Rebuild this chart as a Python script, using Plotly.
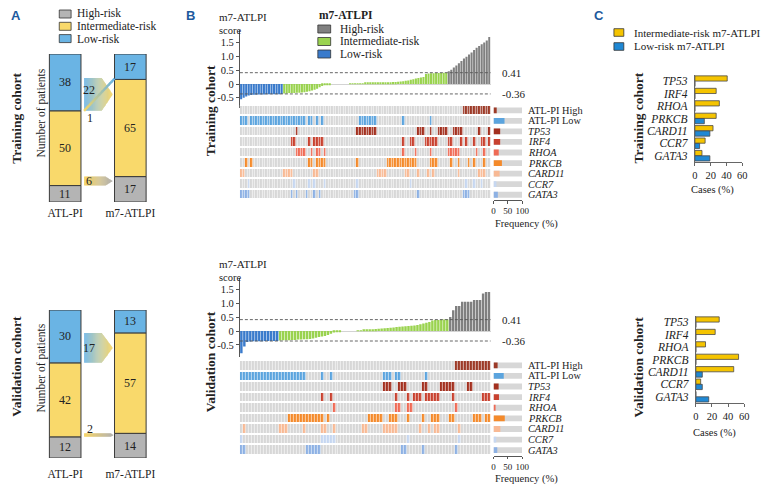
import plotly.graph_objects as go

W, H = 767, 486
SERIF = "Liberation Serif"
SANS = "Liberation Sans"
INK = "#222222"

# ---------------- Panel A data ----------------
risk_names = ["High-risk", "Intermediate-risk", "Low-risk"]
a_colors = ["#b4b4b4", "#f9d96b", "#6ab4e4"]
score_labels = ["ATL-PI", "m7-ATLPI"]
train_atlpi = [11, 50, 38]
train_m7 = [17, 65, 17]
valid_atlpi = [12, 42, 30]
valid_m7 = [14, 57, 13]
train_low_to_int = 22
train_int_to_low = 1
train_int_to_high = 6
valid_low_to_int = 17
valid_int_to_high = 2

# ---------------- Panel B data ----------------
b_risk_colors = ["#808080", "#9ad34f", "#3a7bcc"]
train_score_low = [-0.55, -0.50, -0.45, -0.42, -0.40, -0.39, -0.39, -0.38, -0.38,
                   -0.38, -0.37, -0.37, -0.37, -0.37, -0.37, -0.37, -0.36]
train_score_int = [-0.34, -0.34, -0.33, -0.33, -0.33, -0.32, -0.32, -0.31, -0.30,
                   -0.28, -0.26, -0.24, -0.21, -0.17, -0.12, -0.07, -0.03,
                   -0.01, -0.01, 0, 0, 0, 0, 0, 0, 0, 0.01, 0.01, 0.01,
                   0.02, 0.02, 0.02, 0.03, 0.03, 0.03, 0.03, 0.04, 0.04, 0.04, 0.05,
                   0.05, 0.06, 0.06, 0.07, 0.07, 0.08, 0.09, 0.10,
                   0.12, 0.13, 0.15, 0.17, 0.20, 0.22, 0.24, 0.25,
                   0.36, 0.38, 0.39, 0.39, 0.40, 0.40, 0.40, 0.41, 0.41]
train_score_high = [0.46, 0.52, 0.60, 0.67, 0.75, 0.83, 0.92, 0.99, 1.07, 1.14,
                    1.23, 1.31, 1.38, 1.44, 1.50, 1.58, 1.70]
valid_score_low = [-0.80, -0.56, -0.40, -0.38, -0.37, -0.37, -0.37, -0.37, -0.36,
                   -0.36, -0.36, -0.36, -0.36]
valid_score_int = [-0.34, -0.33, -0.33, -0.33, -0.32, -0.32, -0.31, -0.31, -0.30, -0.30, -0.29,
                   -0.27, -0.24, -0.22, -0.20, -0.18, -0.14, -0.10, -0.05,
                   -0.02, -0.01, 0, 0, 0, 0, 0, 0.01, 0.01,
                   0.03, 0.04, 0.05, 0.06, 0.07, 0.08, 0.09, 0.10, 0.11, 0.12, 0.13,
                   0.14, 0.15, 0.16, 0.17,
                   0.18, 0.19, 0.20, 0.22, 0.24, 0.27, 0.30, 0.32,
                   0.38, 0.40, 0.40, 0.41, 0.41, 0.41]
valid_score_high = [0.50, 0.75, 0.90, 0.90, 1.05, 1.05, 1.05, 1.05, 1.12, 1.12,
                    1.12, 1.35, 1.40, 1.40]
cut_high = 0.41
cut_low = -0.36

row_labels = ["ATL-PI High", "ATL-PI Low", "TP53", "IRF4", "RHOA", "PRKCB",
              "CARD11", "CCR7", "GATA3"]
row_italic = [False, False, True, True, True, True, True, True, True]
row_colors = ["#9c3a27", "#5ba4de", "#a3301f", "#c8412f", "#ef6a55", "#f48a2b",
              "#f8b994", "#c6d7f1", "#8db1e4"]
cell_bg = "#d7d7d7"

# runs of altered patients (first, last), patients ordered by score
train_runs = [
    [(88, 98)],
    [(0, 2), (4, 25), (27, 28), (30, 30), (32, 32), (47, 53), (64, 64), (75, 75)],
    [(22, 22), (46, 53), (70, 72), (75, 75), (78, 81), (84, 87), (94, 94), (98, 98)],
    [(20, 21), (27, 27), (29, 32), (64, 64), (67, 68), (73, 77), (82, 83), (87, 87),
     (89, 89), (92, 92), (95, 96), (98, 98)],
    [(22, 25), (28, 28), (30, 31), (33, 33), (64, 64), (69, 69), (75, 75), (82, 86),
     (93, 93), (96, 96)],
    [(2, 2), (4, 4), (27, 28), (30, 33), (46, 46), (58, 69), (75, 77), (83, 83),
     (86, 86), (90, 90), (92, 92), (96, 96)],
    [(0, 1), (17, 20), (29, 30), (54, 57), (65, 66), (70, 70), (74, 74), (76, 76),
     (86, 86), (94, 96)],
    [(3, 3), (21, 21), (27, 27), (29, 29), (33, 33), (46, 46), (67, 67), (89, 89),
     (92, 92), (95, 95)],
    [(0, 3), (20, 20), (22, 22), (26, 26), (29, 29), (31, 31), (45, 46), (70, 70),
     (88, 90)],
]
valid_runs = [
    [(72, 83)],
    [(0, 21), (27, 27), (30, 30), (48, 50), (52, 53), (62, 62)],
    [(48, 50), (53, 55), (61, 62), (67, 71), (76, 77)],
    [(27, 27), (30, 30), (52, 52), (56, 56), (58, 60), (62, 66), (71, 71), (81, 83)],
    [(31, 31), (52, 53), (56, 57), (72, 72)],
    [(16, 27), (29, 29), (43, 47), (50, 52), (56, 56), (61, 61), (64, 66), (70, 71),
     (78, 80), (82, 83)],
    [(1, 1), (13, 15), (21, 21), (27, 28), (31, 31), (41, 42), (48, 52), (60, 60),
     (63, 63), (65, 66), (73, 73)],
    [(0, 0), (27, 31), (56, 56), (73, 73)],
    [(0, 1), (22, 26), (54, 55), (61, 61), (72, 72)],
]

# ---------------- Panel C data ----------------
c_genes = ["TP53", "IRF4", "RHOA", "PRKCB", "CARD11", "CCR7", "GATA3"]
c_series = ["Intermediate-risk m7-ATLPI", "Low-risk m7-ATLPI"]
c_colors = ["#f5c400", "#1f88d4"]
train_int_pct = [41, 27, 31, 27, 23, 13, 9]
train_low_pct = [0, 0, 0, 12, 19, 6, 19]
valid_int_pct = [29, 24, 12, 53, 47, 6, 0]
valid_low_pct = [0, 0, 0, 0, 8, 8, 16]


# ---------------- helpers ----------------
def xdom(a, b):
    return [a / W, b / W]


def ydom(top, bottom):
    return [1 - bottom / H, 1 - top / H]


def mix(c0, c1, t):
    a = [int(c0[i:i + 2], 16) for i in (1, 3, 5)]
    b = [int(c1[i:i + 2], 16) for i in (1, 3, 5)]
    return "#%02x%02x%02x" % tuple(round(a[k] + (b[k] - a[k]) * t) for k in range(3))


fig = go.Figure()
shapes = []
anns = []


def ann(text, x, y, size=12, family=SERIF, xanchor="center", yanchor="middle",
        angle=0, color=INK, xref="paper", yref="paper"):
    if xref == "paper":
        x = x / W
    if yref == "paper":
        y = 1 - y / H
    anns.append(dict(text=text, x=x, y=y, xref=xref, yref=yref, showarrow=False,
                     xanchor=xanchor, yanchor=yanchor, textangle=angle,
                     font=dict(family=family, size=size, color=color)))


def box(x0, y0, x1, y1, color, lw=0.8):
    shapes.append(dict(type="rect", xref="paper", yref="paper",
                       x0=x0 / W, x1=x1 / W, y0=1 - y1 / H, y1=1 - y0 / H,
                       fillcolor=color, line=dict(color="#333333", width=lw)))


def grad_arrow(xr, yr, x0, x_rect, x_tip, y0, y1, c0, c1, n=30):
    ym = (y0 + y1) / 2

    def top(x):
        return y1 if x <= x_rect else y1 - (y1 - ym) * (x - x_rect) / (x_tip - x_rect)

    def bot(x):
        return y0 if x <= x_rect else y0 + (ym - y0) * (x - x_rect) / (x_tip - x_rect)

    step = (x_tip - x0) / n
    for i in range(n):
        xa = x0 + step * i
        xb = min(x_tip, xa + step * 1.35)
        xs = [xa]
        if xa < x_rect < xb:
            xs.append(x_rect)
        xs.append(xb)
        pts = [(x, bot(x)) for x in xs] + [(x, top(x)) for x in reversed(xs)]
        path = "M" + " L".join(f"{px:.4f},{py:.4f}" for px, py in pts) + " Z"
        shapes.append(dict(type="path", path=path, xref=xr, yref=yr,
                           fillcolor=mix(c0, c1, (i + 0.5) / n), line=dict(width=0),
                           layer="above"))


def grad_line(xr, yr, xa, ya, xb, yb, c0, c1, width=2.4, n=20):
    for i in range(n):
        t0, t1 = i / n, min(1, (i + 1.2) / n)
        shapes.append(dict(type="line", xref=xr, yref=yr,
                           x0=xa + (xb - xa) * t0, y0=ya + (yb - ya) * t0,
                           x1=xa + (xb - xa) * t1, y1=ya + (yb - ya) * t1,
                           line=dict(color=mix(c0, c1, (i + 0.5) / n), width=width),
                           layer="above"))


# ---------------- Panel A ----------------
BW = 0.485
AX0, AXR, AXT = 0.29, 0.56, 0.73


def panel_a(xa, ya, atl, m7, flows):
    xr, yr = xa.replace("axis", ""), ya.replace("axis", "")
    for g in range(3):
        b1, b2 = sum(atl[:g]), sum(m7[:g])
        fig.add_trace(go.Bar(x=[0, 1], y=[atl[g], m7[g]], base=[b1, b2], width=BW,
                             marker=dict(color=a_colors[g], line=dict(color="#3a3a3a", width=1)),
                             xaxis=xr, yaxis=yr, showlegend=False, hoverinfo="skip"))
        ann(str(atl[g]), 0, b1 + atl[g] / 2, size=12, xref=xr, yref=yr)
        ann(str(m7[g]), 1, b2 + m7[g] / 2, size=12, xref=xr, yref=yr)
    low_base = atl[0] + atl[1]
    n_li = flows["low_to_int"]
    grad_arrow(xr, yr, AX0, AXR, AXT, low_base, low_base + n_li, "#7cbde9", "#f8d870")
    ann(str(n_li), 0.37, low_base + n_li * (0.62 if flows.get("int_to_low") else 0.5),
        size=12, xref=xr, yref=yr)
    if flows.get("int_to_low"):
        grad_line(xr, yr, AX0, low_base, 1 - BW / 2, m7[0] + m7[1] + flows["int_to_low"] / 2,
                  "#f6d665", "#62b0e6")
        ann(str(flows["int_to_low"]), 0.38, low_base - 5, size=12, xref=xr, yref=yr)
    n_ih = flows["int_to_high"]
    if n_ih >= 4:
        grad_arrow(xr, yr, AX0, 0.62, AXT, atl[0], atl[0] + n_ih, "#f7d566", "#b2b2b2")
        ann(str(n_ih), 0.37, atl[0] + n_ih / 2, size=12, xref=xr, yref=yr)
    else:
        grad_arrow(xr, yr, AX0, 0.70, 0.745, atl[0], atl[0] + n_ih, "#f7d566", "#b2b2b2")
        ann(str(n_ih), 0.38, atl[0] + n_ih + 2.6, size=12, xref=xr, yref=yr)


panel_a("xaxis", "yaxis", train_atlpi, train_m7,
        dict(low_to_int=train_low_to_int, int_to_low=train_int_to_low,
             int_to_high=train_int_to_high))
panel_a("xaxis2", "yaxis2", valid_atlpi, valid_m7,
        dict(low_to_int=valid_low_to_int, int_to_low=0, int_to_high=valid_int_to_high))


# ---------------- Panel B ----------------
def runs_to_set(runs):
    s = set()
    for a, b in runs:
        s.update(range(a, b + 1))
    return s


def panel_b(ax_s, ax_h, ax_f, low, inter, high, runs):
    n = len(low) + len(inter) + len(high)
    groups = [high, inter, low]
    starts = [len(low) + len(inter), len(low), 0]
    for g in (2, 1, 0):
        fig.add_trace(go.Bar(x=list(range(starts[g], starts[g] + len(groups[g]))),
                             y=groups[g], marker=dict(color=b_risk_colors[g], line=dict(width=0)),
                             xaxis="x" + ax_s, yaxis="y" + ax_s, showlegend=False,
                             hoverinfo="skip"))
    for cut in (cut_high, cut_low):
        shapes.append(dict(type="line", xref="x" + ax_s, yref="y" + ax_s,
                           x0=-0.5, x1=n - 0.5 + n * 0.008, y0=cut, y1=cut,
                           line=dict(color="#555555", width=0.9, dash="3px,2px")))
    sets = [runs_to_set(r) for r in runs]
    z = [[(i + 1) if j in sets[i] else 0 for j in range(n)] for i in range(len(runs))]
    cols = [cell_bg] + row_colors
    k = len(cols)
    cs = []
    for i, c in enumerate(cols):
        cs.append([i / k, c])
        cs.append([(i + 1) / k, c])
    fig.add_trace(go.Heatmap(z=z, x=list(range(n)), y=list(range(len(runs))),
                             colorscale=cs, zmin=-0.5, zmax=k - 0.5, showscale=False,
                             xgap=0.6, ygap=2, hoverinfo="skip",
                             xaxis="x" + ax_h, yaxis="y" + ax_h))
    freq = [100 * len(s) / n for s in sets]
    fig.add_trace(go.Bar(x=[100] * len(runs), y=list(range(len(runs))), orientation="h",
                         width=0.55, marker=dict(color=cell_bg, line=dict(width=0)),
                         xaxis="x" + ax_f, yaxis="y" + ax_f, showlegend=False,
                         hoverinfo="skip"))
    fig.add_trace(go.Bar(x=freq, y=list(range(len(runs))), orientation="h",
                         width=0.55, marker=dict(color=row_colors, line=dict(width=0)),
                         xaxis="x" + ax_f, yaxis="y" + ax_f, showlegend=False,
                         hoverinfo="skip"))
    for i, lab in enumerate(row_labels):
        txt = f"<i>{lab}</i>" if row_italic[i] else lab
        anns.append(dict(text=txt, x=530 / W, y=i, xref="paper", yref="y" + ax_f,
                         xanchor="left", yanchor="middle", showarrow=False,
                         font=dict(family=SERIF, size=10.3, color=INK)))
    return n


n_train = panel_b("3", "4", "5", train_score_low, train_score_int, train_score_high, train_runs)
n_valid = panel_b("6", "7", "8", valid_score_low, valid_score_int, valid_score_high, valid_runs)


# ---------------- Panel C ----------------
def panel_c(ax, ints, lows):
    for vals, col, off in ((ints, c_colors[0], -0.43), (lows, c_colors[1], 0.0)):
        fig.add_trace(go.Bar(x=vals, y=list(range(len(c_genes))), orientation="h",
                             width=0.42, offset=off,
                             marker=dict(color=col, line=dict(color="#4a4a4a", width=0.8)),
                             xaxis="x" + ax, yaxis="y" + ax, showlegend=False,
                             hoverinfo="skip"))


panel_c("9", train_int_pct, train_low_pct)
panel_c("10", valid_int_pct, valid_low_pct)

# ---------------- axes ----------------
tf9 = dict(family=SERIF, size=9, color=INK)
tf10 = dict(family=SERIF, size=10.5, color=INK)
tf11 = dict(family=SERIF, size=11.5, color=INK)
hid = dict(visible=False, fixedrange=True)
lay = {}
lay["xaxis"] = dict(domain=xdom(30, 162), range=[-0.5, 1.5], tickvals=[0, 1], ticktext=score_labels,
                    showgrid=False, zeroline=False, showline=False, ticks="", tickfont=tf11,
                    anchor="y", ticklabelstandoff=2)
lay["yaxis"] = dict(hid, domain=ydom(54, 202), range=[0, sum(train_atlpi)], anchor="x")
lay["xaxis2"] = dict(domain=xdom(30, 162), range=[-0.5, 1.5], tickvals=[0, 1], ticktext=score_labels,
                     showgrid=False, zeroline=False, showline=False, ticks="", tickfont=tf11,
                     anchor="y2", ticklabelstandoff=7)
lay["yaxis2"] = dict(hid, domain=ydom(310, 458), range=[0, sum(valid_atlpi)], anchor="x2")

score_ax = dict(showline=True, linecolor="#555555", linewidth=1, ticks="outside", ticklen=3,
                tickcolor="#555555", tickvals=[-0.5, 0, 0.5, 1.0, 1.5],
                ticktext=["-0.5", "0", "0.5", "1.0", "1.5"], tickfont=tf10, showgrid=False,
                zeroline=True, zerolinecolor="#d3d3d3", zerolinewidth=1, fixedrange=True)
freq_ax = dict(range=[0, 100], tickvals=[0, 50, 100], ticks="outside", ticklen=2.5,
               tickcolor="#555555", showline=True, linecolor="#555555", linewidth=1,
               showgrid=False, zeroline=False, tickfont=tf9, tickangle=0, fixedrange=True,
               ticklabelstandoff=0)
lay["xaxis3"] = dict(hid, domain=xdom(240, 494), range=[-0.5, n_train - 0.5], anchor="y3")
lay["yaxis3"] = dict(score_ax, domain=ydom(30.2, 108), range=[-0.87, 1.95], anchor="x3")
lay["xaxis4"] = dict(hid, domain=xdom(240, 494), range=[-0.5, n_train - 0.5], anchor="y4")
lay["yaxis4"] = dict(hid, domain=ydom(105, 199), range=[8.5, -0.5], anchor="x4")
lay["xaxis5"] = dict(freq_ax, domain=xdom(497, 526), anchor="y5")
lay["yaxis5"] = dict(hid, domain=ydom(105, 200), range=[8.5, -0.5], anchor="x5")
lay["xaxis6"] = dict(hid, domain=xdom(240, 494), range=[-0.5, n_valid - 0.5], anchor="y6")
lay["yaxis6"] = dict(score_ax, domain=ydom(278.2, 357.4), range=[-0.95, 1.9], anchor="x6")
lay["xaxis7"] = dict(hid, domain=xdom(240, 494), range=[-0.5, n_valid - 0.5], anchor="y7")
lay["yaxis7"] = dict(hid, domain=ydom(360, 454.5), range=[8.5, -0.5], anchor="x7")
lay["xaxis8"] = dict(freq_ax, domain=xdom(497, 526), anchor="y8")
lay["yaxis8"] = dict(hid, domain=ydom(360, 455.5), range=[8.5, -0.5], anchor="x8")

c_x = dict(range=[0, 60], tickvals=[0, 20, 40, 60], ticks="outside", ticklen=3,
           tickcolor="#666666", showline=True, linecolor="#666666", linewidth=1,
           showgrid=False, zeroline=False, tickfont=tf10, fixedrange=True)
c_y = dict(range=[6.5, -0.5], tickvals=list(range(len(c_genes))),
           ticktext=[f"<i>{g}</i>" for g in c_genes], ticks="", showline=True,
           linecolor="#666666", linewidth=1, showgrid=False, zeroline=False,
           tickfont=tf11, ticklabelstandoff=4, fixedrange=True)
lay["xaxis9"] = dict(c_x, domain=xdom(701, 749), anchor="y9")
lay["yaxis9"] = dict(c_y, domain=ydom(75, 162), anchor="x9")
lay["xaxis10"] = dict(c_x, domain=xdom(702, 751), anchor="y10")
lay["yaxis10"] = dict(c_y, domain=ydom(316, 403), anchor="x10")

# ---------------- texts & legends ----------------
letter_col = "#1d5a9e"
ann("<b>A</b>", 13, 15, size=13, family=SANS, color=letter_col)
ann("<b>B</b>", 190, 15, size=13, family=SANS, color=letter_col)
ann("<b>C</b>", 604, 15, size=13, family=SANS, color=letter_col)

for i, g in enumerate([0, 1, 2]):
    yc = 14 + 12.3 * i
    box(57, yc - 4, 69, yc + 4, a_colors[g])
    ann(risk_names[g], 73, yc, size=11.5, xanchor="left")
ann("<b>Training cohort</b>", 13, 118, size=13.5, angle=-90)
ann("Number of patients", 38, 113, size=11.5, angle=-90)
ann("<b>Validation cohort</b>", 13, 366, size=13.5, angle=-90)
ann("Number of patients", 38, 368, size=11.5, angle=-90)

ann("m7-ATLPI", 217, 17, size=11, xanchor="left")
ann("score", 217, 31, size=10.5, xanchor="left")
ann("m7-ATLPI", 217, 264, size=11, xanchor="left")
ann("score", 217, 277, size=10.5, xanchor="left")
ann("<b>m7-ATLPI</b>", 318, 15, size=11.5, xanchor="left")
for i, g in enumerate([0, 1, 2]):
    yc = 29 + 12.5 * i
    box(319, yc - 4, 332, yc + 4, b_risk_colors[g])
    ann(risk_names[g], 339, yc, size=11.5, xanchor="left")
for ax, c in (("3", cut_high), ("3", cut_low), ("6", cut_high), ("6", cut_low)):
    anns.append(dict(text=f"{c:.2f}", x=504 / W, y=c, xref="paper", yref="y" + ax,
                     xanchor="left", yanchor="middle", showarrow=False,
                     font=dict(family=SERIF, size=11, color=INK)))
ann("<b>Training cohort</b>", 210, 111, size=13.5, angle=-90)
ann("<b>Validation cohort</b>", 210, 362, size=13.5, angle=-90)
ann("Frequency (%)", 496, 224, size=10.5, xanchor="left")
ann("Frequency (%)", 496, 479, size=10.5, xanchor="left")

for i, s in enumerate(c_series):
    yc = 32.5 + 14 * i
    box(619, yc - 3.8, 629, yc + 3.8, c_colors[i])
    ann(s, 637, yc, size=11, xanchor="left")
ann("<b>Training cohort</b>", 643, 118, size=13.5, angle=-90)
ann("<b>Validation cohort</b>", 643, 367, size=13.5, angle=-90)
ann("Cases (%)", 719, 190, size=10.5)
ann("Cases (%)", 721, 433, size=10.5)

fig.update_layout(width=W, height=H, margin=dict(l=0, r=0, t=0, b=0),
                  paper_bgcolor="white", plot_bgcolor="white", barmode="overlay",
                  bargap=0.18, showlegend=False, shapes=shapes, annotations=anns,
                  font=dict(family=SERIF, color=INK), **lay)
fig.write_html("out.html", config={"displayModeBar": False},
               post_script="document.body.style.margin='0';")
